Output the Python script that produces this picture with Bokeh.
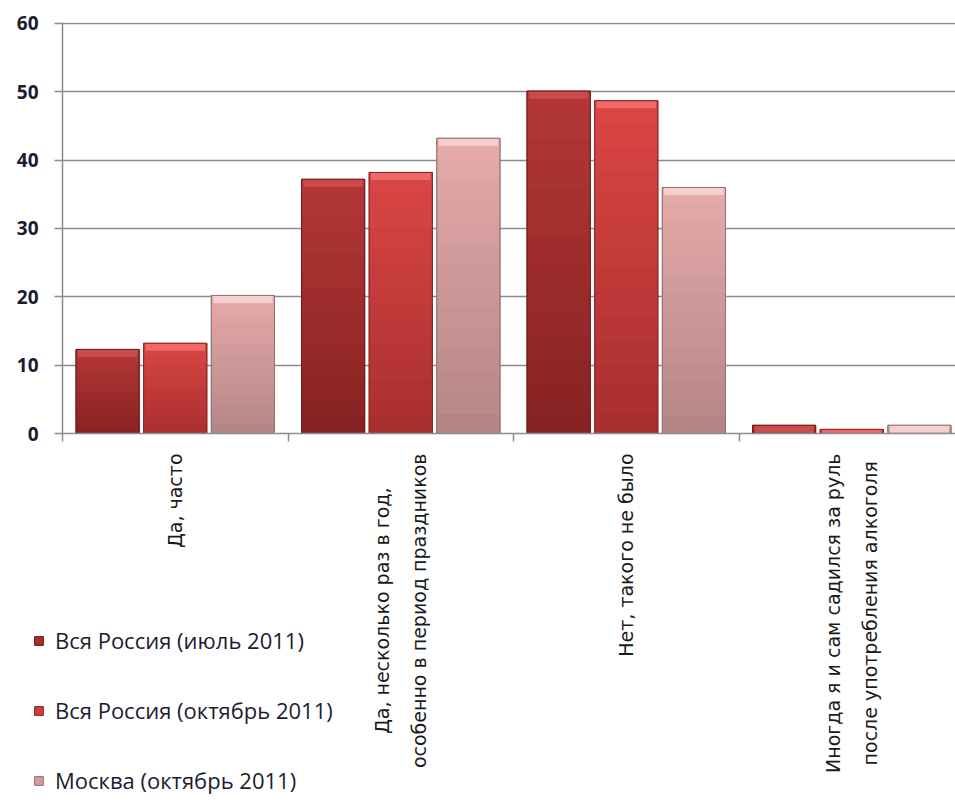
import numpy as np
from math import pi
from bokeh.plotting import figure
from bokeh.layouts import column
from bokeh.models import Range1d, FixedTicker, Legend, LegendItem
from bokeh.embed import file_html
from bokeh.resources import INLINE

categories = [
    "Да, часто",
    "Да, несколько раз в год,\nособенно в период праздников",
    "Нет, такого не было",
    "Иногда я и сам садился за руль\nпосле употребления алкоголя",
]
series_names = ["Вся Россия (июль 2011)", "Вся Россия (октябрь 2011)", "Москва (октябрь 2011)"]
russia_jul_2011 = [12.3, 37.2, 50.1, 1.2]
russia_oct_2011 = [13.2, 38.2, 48.7, 0.6]
moscow_oct_2011 = [20.2, 43.2, 36.0, 1.2]
y_ticks = [0, 10, 20, 30, 40, 50, 60]

series = [russia_jul_2011, russia_oct_2011, moscow_oct_2011]
mid_colors = ["#A52F2F", "#CC3D3D", "#D39C9C"]
top_colors = ["#B53737", "#DB4646", "#E6AAAA"]
bot_colors = ["#862222", "#A82E2E", "#B48484"]
hi_colors = ["#CB4A4A", "#F06969", "#F6CFCF"]
edge_colors = ["#6E1A1A", "#8E2424", "#957070"]
offsets = [-0.3, 0.0, 0.3]
bar_w = 0.28

n = len(categories)
W = 955
FRAME_LEFT = 62
X_END = 3.96
px_per_cat = (W - FRAME_LEFT) / X_END

TOP_H = 445
p = figure(width=W, height=TOP_H, output_backend="svg", toolbar_location=None,
           x_range=Range1d(0, X_END), y_range=Range1d(0, 60.146),
           min_border_left=FRAME_LEFT, min_border_right=0, min_border_top=22,
           min_border_bottom=12)
p.frame_align = False
p.outline_line_color = None

p.yaxis.ticker = FixedTicker(ticks=y_ticks)
p.yaxis.axis_line_color = "#8C8C8C"
p.yaxis.axis_line_width = 1.5
p.yaxis.major_tick_line_color = "#8C8C8C"
p.yaxis.major_tick_line_width = 1.5
p.yaxis.major_tick_in = 0
p.yaxis.major_tick_out = 8
p.yaxis.minor_tick_line_color = None
p.yaxis.major_label_standoff = 16
p.yaxis.major_label_text_font = "Open Sans"
p.yaxis.major_label_text_font_style = "bold"
p.yaxis.major_label_text_font_size = "19px"
p.yaxis.major_label_text_color = "#1C1C30"

x_ticks = list(range(n))
p.xaxis.ticker = FixedTicker(ticks=x_ticks)
p.xaxis.major_label_overrides = {t: "" for t in x_ticks}
p.xaxis.major_label_standoff = 0
p.xaxis.axis_line_color = "#8C8C8C"
p.xaxis.axis_line_width = 1.5
p.xaxis.major_tick_line_color = "#8C8C8C"
p.xaxis.major_tick_line_width = 1.5
p.xaxis.major_tick_in = 0
p.xaxis.major_tick_out = 8
p.xaxis.minor_tick_line_color = None

p.xgrid.grid_line_color = None
p.ygrid.ticker = FixedTicker(ticks=y_ticks)
p.ygrid.grid_line_color = "#8C8C8C"
p.ygrid.grid_line_width = 1.5


def mix(c1, c2, t):
    a = np.array([int(c1[i:i + 2], 16) for i in (1, 3, 5)])
    b = np.array([int(c2[i:i + 2], 16) for i in (1, 3, 5)])
    c = np.round(a + (b - a) * t).astype(int)
    return "#%02X%02X%02X" % tuple(c)


centers = np.arange(n) + 0.5
NB = 14
for k, vals in enumerate(series):
    vals = np.array(vals, dtype=float)
    xs = centers + offsets[k]
    p.vbar(x=xs, top=vals, bottom=0, width=bar_w, fill_color=mid_colors[k],
           line_color=edge_colors[k], line_width=1)
    for b in range(NB):
        t = (b + 0.5) / NB
        p.vbar(x=xs, bottom=vals * b / NB, top=vals * (b + 1) / NB, width=bar_w,
               fill_color=mix(bot_colors[k], top_colors[k], t), line_color=None)
    # top bevel highlight
    p.vbar(x=xs, top=vals, bottom=np.maximum(vals - 1.1, 0), width=bar_w * 0.94,
           fill_color=hi_colors[k], line_color=None)
    p.vbar(x=xs, top=vals, bottom=0, width=bar_w, fill_color=None,
           line_color=edge_colors[k], line_width=1)

# ---- lower panel: category labels and legend ----
BOT_H = 802 - TOP_H
q = figure(width=W, height=BOT_H, output_backend="svg", toolbar_location=None,
           x_range=Range1d(-FRAME_LEFT / px_per_cat, X_END), y_range=Range1d(0, 1),
           x_axis_type=None, y_axis_type=None, min_border=0)
q.frame_align = False
q.min_border_left = 0
q.min_border_right = 0
q.min_border_top = 0
q.min_border_bottom = 0
q.outline_line_color = None
q.xgrid.grid_line_color = None
q.ygrid.grid_line_color = None

q.text(x=centers, y=[1] * n, text=categories, angle=pi / 2,
       anchor="center_right", text_align="center", y_offset=8,
       text_font={"value": "DejaVu Sans"}, text_font_size="19px",
       text_color="#1A1A1A", text_line_height=1.7)

# legend swatches: renderers kept outside the visible range, styled like the bars
leg_rs = []
for k in range(3):
    rr = q.vbar(x=[-10], top=[-10], bottom=[-11], width=0.1, fill_color=mid_colors[k],
                line_color=edge_colors[k], line_width=1)
    leg_rs.append(rr)
legend = Legend(items=[LegendItem(label=nm, renderers=[r]) for nm, r in zip(series_names, leg_rs)],
                location=(33, 7), orientation="vertical")
legend.border_line_color = None
legend.background_fill_alpha = 0
legend.padding = 0
legend.margin = 0
legend.glyph_width = 11
legend.glyph_height = 11
legend.label_height = 28
legend.label_text_font = "Open Sans"
legend.label_text_font_size = "22px"
legend.label_text_color = "#1C1C30"
legend.label_standoff = 11
legend.spacing = 40
q.add_layout(legend, "center")

layout = column(p, q, spacing=0)
open("out.html", "w").write(file_html(layout, INLINE))
